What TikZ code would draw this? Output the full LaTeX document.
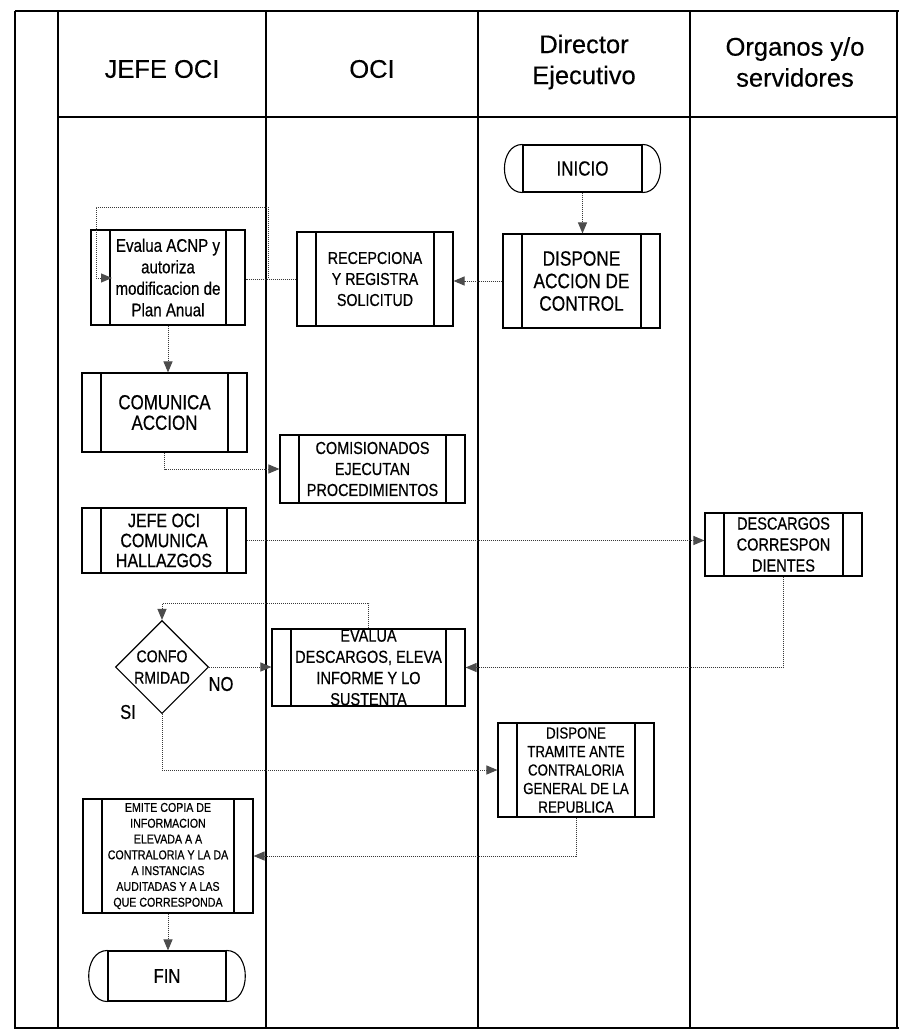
\documentclass[tikz,border=0pt]{standalone}
\usepackage{fontspec}
\setmainfont{Liberation Sans}[FakeBold=0.3]
\newfontfamily\nf[FakeStretch=0.83,FakeBold=0.5]{Liberation Sans}
\usetikzlibrary{arrows.meta,shapes.geometric}
\tikzset{
  lane/.style={line width=1.3pt, draw=black},
  proc/.style={draw=black, line width=1.1pt, rectangle, inner sep=0pt, align=center,
    path picture={\draw[line width=1.1pt]
      ([xshift=19pt]path picture bounding box.north west) -- ([xshift=19pt]path picture bounding box.south west)
      ([xshift=-19pt]path picture bounding box.north east) -- ([xshift=-19pt]path picture bounding box.south east);}},
  term/.style={draw=black, line width=1.1pt, rectangle, inner sep=0pt, align=center},
  link/.style={densely dotted, line width=1pt, draw=gray!45!black},
  flow/.style={link, -{Triangle[length=11pt,width=9pt,fill=gray!60!black,color=gray!60!black]}},
  hdr/.style={font=\fontsize{25.5}{31}\selectfont, align=center},
  lbl/.style={font=\nf\fontsize{20}{22}\selectfont}
}
\begin{document}
\begin{tikzpicture}[x=1pt,y=-1pt]
\useasboundingbox (0,0) rectangle (899,1035);
\fill[white] (0,0) rectangle (899,1035);

% frame and lanes
\draw[line width=2.6pt] (15,11) -- (899,11);
\draw[lane] (15,11) -- (15,1028) -- (899,1028);
\draw[lane] (58,11) -- (58,1028);
\draw[lane] (266,11) -- (266,1028);
\draw[lane] (478,11) -- (478,1028);
\draw[lane] (690,11) -- (690,1028);
\draw[lane] (897,11) -- (897,1028);
\draw[lane] (58,117) -- (897,117);

% headers
\node[hdr] (h1) at (162,69) {JEFE OCI};
\node[hdr] (h2) at (372,69) {OCI};
\node[hdr] (h3) at (584,62) {Director\\Ejecutivo};
\node[hdr] (h4) at (795,62) {Organos y/o\\servidores};

% terminals
\node[term, minimum width=119pt, minimum height=47pt, font=\nf\fontsize{20.5}{22}\selectfont] (inicio) at (582.5,168.5) {INICIO};
\draw[line width=1.1pt] (inicio.north west) .. controls +(-24,0) and +(-24,0) .. (inicio.south west);
\draw[line width=1.1pt] (inicio.north east) .. controls +(24,0) and +(24,0) .. (inicio.south east);

\node[term, minimum width=118pt, minimum height=50pt, font=\nf\fontsize{20}{22}\selectfont] (fin) at (167,976) {FIN};
\draw[line width=1.1pt] (fin.north west) .. controls +(-25,0) and +(-25,0) .. (fin.south west);
\draw[line width=1.1pt] (fin.north east) .. controls +(25,0) and +(25,0) .. (fin.south east);

% processes
\node[proc, minimum width=157pt, minimum height=94pt, font=\nf\fontsize{20.8}{22.5}\selectfont] (disp) at (581.5,281) {DISPONE\\ACCION DE\\CONTROL};
\node[proc, minimum width=156pt, minimum height=94pt, font=\nf\fontsize{17.2}{21}\selectfont] (recep) at (375,279) {RECEPCIONA\\Y REGISTRA\\SOLICITUD};
\node[proc, minimum width=154pt, minimum height=95pt, font=\nf\fontsize{18.2}{21.5}\selectfont] (evalua) at (168,277.5) {Evalua ACNP y\\autoriza\\modificacion de\\Plan Anual};
\node[proc, minimum width=165pt, minimum height=79pt, font=\nf\fontsize{20.4}{20.5}\selectfont] (comun) at (164.5,412.5) {COMUNICA\\ACCION};
\node[proc, minimum width=185pt, minimum height=68pt, font=\nf\fontsize{17.4}{21}\selectfont] (comis) at (372.5,469) {COMISIONADOS\\EJECUTAN\\PROCEDIMIENTOS};
\node[proc, minimum width=164pt, minimum height=65pt, font=\nf\fontsize{19.3}{20}\selectfont] (jefe) at (164,540.5) {JEFE OCI\\COMUNICA\\HALLAZGOS};
\node[proc, minimum width=157pt, minimum height=63pt, font=\nf\fontsize{17.5}{21}\selectfont] (desc) at (783.5,544.5) {DESCARGOS\\CORRESPON\\DIENTES};
\node[proc, minimum width=193pt, minimum height=77pt, font=\nf\fontsize{17.5}{21.2}\selectfont] (evdesc) at (368.5,667.5) {EVALUA\\DESCARGOS, ELEVA\\INFORME Y LO\\SUSTENTA};
\node[proc, minimum width=156pt, minimum height=94pt, font=\nf\fontsize{16}{18.5}\selectfont] (tram) at (576,770) {DISPONE\\TRAMITE ANTE\\CONTRALORIA\\GENERAL DE LA\\REPUBLICA};
\node[proc, minimum width=170pt, minimum height=114pt, font=\nf\fontsize{12.8}{15.8}\selectfont] (emite) at (168,856) {EMITE COPIA DE\\INFORMACION\\ELEVADA A A\\CONTRALORIA Y LA DA\\A INSTANCIAS\\AUDITADAS Y A LAS\\QUE CORRESPONDA};

% decision
\node[diamond, draw=black, line width=1.1pt, minimum width=93pt, minimum height=93pt, inner sep=0pt, aspect=1, align=center, font=\nf\fontsize{17}{21.5}\selectfont] (dia) at (162,667) {CONFO\\RMIDAD};
\node[lbl] (no) at (221,684) {NO};
\node[lbl] (si) at (128,712) {SI};

% connectors
\draw[flow] (inicio.south) -- (inicio.south |- disp.north);
\draw[flow] (disp.west) -- (disp.west -| recep.east);
\draw[link] (recep.west) -- (recep.west -| evalua.east);
\coordinate (j1) at (268,278);
\coordinate (j2) at (112,278);
\draw[flow] (j1) -- (268,207) -- (96,207) -- (96,278) -- (j2);
\draw[flow] (evalua.south) -- (evalua.south |- comun.north);
\draw[flow] (comun.south) |- (comis.west);
\draw[flow] (jefe.east) -- (jefe.east -| desc.west);
\draw[flow] (desc.south) |- (evdesc.east);
\draw[flow] (evdesc.north) -- ++(0,-25) -| (dia.north);
\draw[flow] (dia.east) -- (dia.east -| evdesc.west);
\draw[flow] (dia.south) |- (tram.west);
\draw[flow] (tram.south) |- (emite.east);
\draw[flow] (emite.south) -- (emite.south |- fin.north);
\end{tikzpicture}
\end{document}
